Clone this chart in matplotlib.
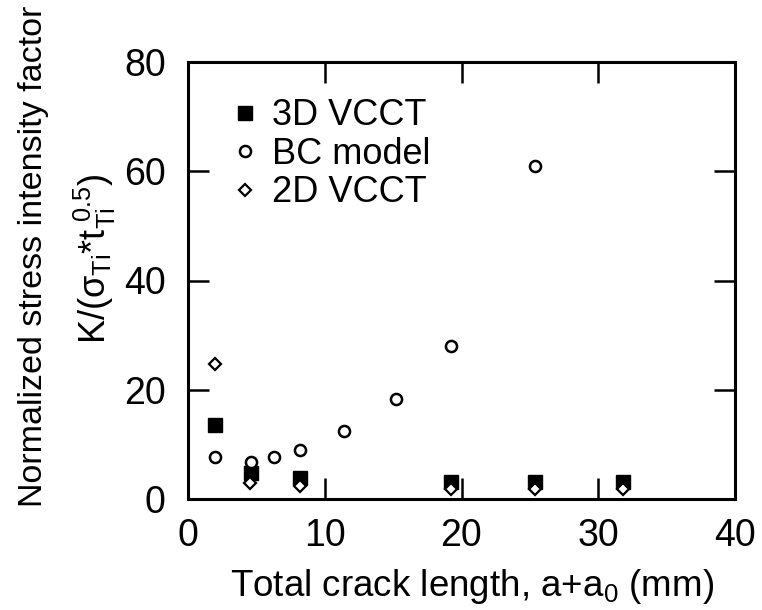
import matplotlib
matplotlib.use('Agg')
import matplotlib.pyplot as plt

# 데이터
x_3d = [2.0, 4.6, 8.2, 19.2, 25.4, 31.8]
k_3d = [13.5, 4.8, 3.8, 3.2, 3.2, 3.2]

x_bc = [2.0, 4.6, 6.3, 8.2, 11.4, 15.2, 19.2, 25.4]
k_bc = [7.6, 6.8, 7.6, 9.0, 12.5, 18.3, 28.0, 61.0]

x_2d = [2.0, 4.5, 8.2, 19.2, 25.4, 31.8]
k_2d = [24.8, 2.9, 2.4, 1.9, 1.9, 1.9]

labels = ['3D VCCT', 'BC model', '2D VCCT']

plt.rcParams['font.family'] = ['Liberation Sans', 'DejaVu Sans']
plt.rcParams['mathtext.fontset'] = 'custom'
plt.rcParams['mathtext.rm'] = 'Liberation Sans'
plt.rcParams['mathtext.it'] = 'Liberation Sans'
plt.rcParams['mathtext.sf'] = 'Liberation Sans'

fig = plt.figure(figsize=(7.62, 6.10), dpi=100)
ax = fig.add_axes([188 / 762, 1 - 499 / 610, (735 - 188) / 762, (499 - 62) / 610])

ax.plot(x_3d, k_3d, 's', color='black', ms=9.5, label=labels[0], zorder=3)
ax.plot(x_bc, k_bc, 'o', mfc='white', mec='black', mew=1.8, ms=8, label=labels[1], zorder=4)
ax.plot(x_2d, k_2d, 'D', mfc='white', mec='black', mew=1.6, ms=6, label=labels[2], zorder=5)

ax.set_xlim(0, 40)
ax.set_ylim(0, 80)
ax.set_xticks([0, 10, 20, 30, 40])
ax.set_yticks([0, 20, 40, 60, 80])
ax.tick_params(direction='in', length=15, width=1.8, labelsize=27,
               top=True, right=True)
ax.tick_params(axis='x', pad=14)
ax.tick_params(axis='y', pad=16)
for s in ax.spines.values():
    s.set_linewidth(2.2)

ax.set_xlabel(r'Total crack length, a+a$_{\mathregular{0}}$ (mm)', fontsize=26.5, labelpad=7)
ax.xaxis.set_label_coords(0.52, -0.155)

fig.text(0.044, 0.58, 'Normalized stress intensity factor', rotation=90,
         fontsize=24.5, ha='center', va='center')
fig.text(0.125, 0.575, r'K/($\mathregular{\sigma_{Ti}}$*$\mathregular{t_{Ti}^{\ 0.5}}$)',
         rotation=90, fontsize=26, ha='center', va='center')

ax.legend(loc='upper left', frameon=False, fontsize=26, handletextpad=0.1,
          labelspacing=0.1, borderaxespad=0.3, handlelength=1.3,
          bbox_to_anchor=(0.015, 0.975))

fig.savefig('out.png', dpi=100)
